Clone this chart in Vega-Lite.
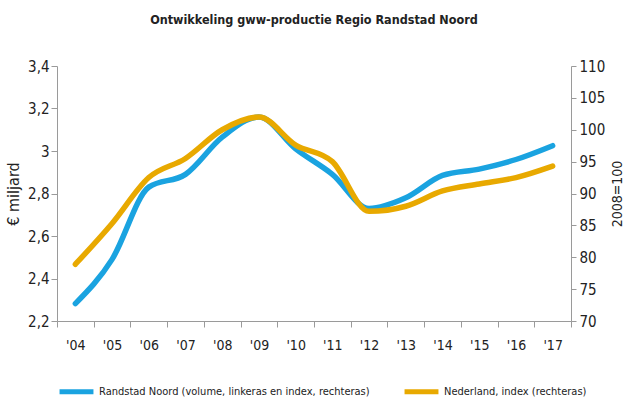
{
  "$schema": "https://vega.github.io/schema/vega-lite/v6.json",
  "width": 514,
  "height": 255,
  "padding": {"left": 5, "top": 13, "right": 2, "bottom": 0},
  "config": {
    "locale": {"number": {"decimal": ",", "thousands": ".", "grouping": [3], "currency": ["€", ""]}},
    "font": "DejaVu Sans Condensed, Liberation Sans, sans-serif",
    "view": {"stroke": null},
    "axis": {"grid": false, "domainColor": "#9a9a9a", "tickColor": "#9a9a9a", "labelColor": "#222", "labelFontSize": 14, "titleFontWeight": "normal", "titleColor": "#222"}
  },
  "title": {"text": "Ontwikkeling gww-productie Regio Randstad Noord", "fontSize": 12.5, "fontWeight": "bold", "color": "#222", "offset": 33, "font": "DejaVu Sans Condensed, Liberation Sans, sans-serif"},
  "data": {"values": [
    {"jaar": "'04", "reeks": "Randstad Noord (volume, linkeras en index, rechteras)", "waarde": 2.282},
    {"jaar": "'05", "reeks": "Randstad Noord (volume, linkeras en index, rechteras)", "waarde": 2.49},
    {"jaar": "'06", "reeks": "Randstad Noord (volume, linkeras en index, rechteras)", "waarde": 2.83},
    {"jaar": "'07", "reeks": "Randstad Noord (volume, linkeras en index, rechteras)", "waarde": 2.89},
    {"jaar": "'08", "reeks": "Randstad Noord (volume, linkeras en index, rechteras)", "waarde": 3.065},
    {"jaar": "'09", "reeks": "Randstad Noord (volume, linkeras en index, rechteras)", "waarde": 3.16},
    {"jaar": "'10", "reeks": "Randstad Noord (volume, linkeras en index, rechteras)", "waarde": 3.01},
    {"jaar": "'11", "reeks": "Randstad Noord (volume, linkeras en index, rechteras)", "waarde": 2.89},
    {"jaar": "'12", "reeks": "Randstad Noord (volume, linkeras en index, rechteras)", "waarde": 2.73},
    {"jaar": "'13", "reeks": "Randstad Noord (volume, linkeras en index, rechteras)", "waarde": 2.78},
    {"jaar": "'14", "reeks": "Randstad Noord (volume, linkeras en index, rechteras)", "waarde": 2.885},
    {"jaar": "'15", "reeks": "Randstad Noord (volume, linkeras en index, rechteras)", "waarde": 2.915},
    {"jaar": "'16", "reeks": "Randstad Noord (volume, linkeras en index, rechteras)", "waarde": 2.96},
    {"jaar": "'17", "reeks": "Randstad Noord (volume, linkeras en index, rechteras)", "waarde": 3.025},
    {"jaar": "'04", "reeks": "Nederland, index (rechteras)", "waarde": 78.9},
    {"jaar": "'05", "reeks": "Nederland, index (rechteras)", "waarde": 85.3},
    {"jaar": "'06", "reeks": "Nederland, index (rechteras)", "waarde": 92.5},
    {"jaar": "'07", "reeks": "Nederland, index (rechteras)", "waarde": 95.5},
    {"jaar": "'08", "reeks": "Nederland, index (rechteras)", "waarde": 100.0},
    {"jaar": "'09", "reeks": "Nederland, index (rechteras)", "waarde": 102.0},
    {"jaar": "'10", "reeks": "Nederland, index (rechteras)", "waarde": 97.6},
    {"jaar": "'11", "reeks": "Nederland, index (rechteras)", "waarde": 95.0},
    {"jaar": "'12", "reeks": "Nederland, index (rechteras)", "waarde": 87.2},
    {"jaar": "'13", "reeks": "Nederland, index (rechteras)", "waarde": 88.0},
    {"jaar": "'14", "reeks": "Nederland, index (rechteras)", "waarde": 90.4},
    {"jaar": "'15", "reeks": "Nederland, index (rechteras)", "waarde": 91.5},
    {"jaar": "'16", "reeks": "Nederland, index (rechteras)", "waarde": 92.5},
    {"jaar": "'17", "reeks": "Nederland, index (rechteras)", "waarde": 94.3}
  ]},
  "encoding": {
    "x": {"field": "jaar", "type": "ordinal", "sort": null, "scale": {"paddingInner": 0, "paddingOuter": 0},
      "axis": {"title": null, "labelAngle": 0, "tickBand": "extent", "tickSize": 6, "labelPadding": 11, "labelFontSize": 14}},
    "color": {"field": "reeks", "type": "nominal",
      "scale": {"domain": ["Randstad Noord (volume, linkeras en index, rechteras)", "Nederland, index (rechteras)"], "range": ["#1aa3e0", "#e8a900"]},
      "legend": {"title": null, "orient": "bottom", "direction": "horizontal", "symbolType": "stroke", "symbolSize": 1150, "symbolStrokeWidth": 5, "labelFontSize": 11, "labelColor": "#222", "columnPadding": 24, "offset": 20, "labelLimit": 400, "padding": 0, "labelOffset": 3}}
  },
  "layer": [
    {
      "transform": [{"filter": "datum.reeks === 'Randstad Noord (volume, linkeras en index, rechteras)'"}],
      "mark": {"type": "line", "interpolate": "monotone", "strokeWidth": 5.5, "strokeCap": "round"},
      "encoding": {
        "y": {"field": "waarde", "type": "quantitative", "scale": {"domain": [2.2, 3.4], "nice": false, "zero": false},
          "axis": {"title": "€ miljard", "titleFontSize": 16, "titlePadding": 6, "values": [2.2, 2.4, 2.6, 2.8, 3.0, 3.2, 3.4], "format": ".1~f", "tickSize": 6, "labelFontSize": 15}}
      }
    },
    {
      "transform": [{"filter": "datum.reeks === 'Nederland, index (rechteras)'"}],
      "mark": {"type": "line", "interpolate": "monotone", "strokeWidth": 5.5, "strokeCap": "round"},
      "encoding": {
        "y": {"field": "waarde", "type": "quantitative", "scale": {"domain": [70, 110], "nice": false, "zero": false},
          "axis": {"orient": "right", "title": "2008=100", "titleAngle": 270, "titleBaseline": "top", "titleFontSize": 14, "titlePadding": 6, "values": [70, 75, 80, 85, 90, 95, 100, 105, 110], "tickSize": 5, "labelPadding": 3, "labelFontSize": 15}}
      }
    }
  ],
  "resolve": {"scale": {"y": "independent"}}
}
